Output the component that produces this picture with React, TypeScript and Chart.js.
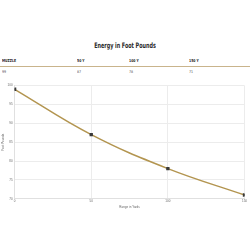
import React, { useEffect, useRef } from "react";
import { Chart, registerables } from "chart.js";

Chart.register(...registerables);

const title = "Energy in Foot Pounds";
const headers = ["MUZZLE", "50 Y", "100 Y", "150 Y"];
const ranges = [0, 50, 100, 150];
const energy = [99, 87, 78, 71];
const yTicks = { min: 70, max: 100, step: 5 };
const xTitle = "Range in Yards";
const yTitle = "Foot Pounds";

export default function App() {
  const ref = useRef<HTMLCanvasElement>(null);
  useEffect(() => {
    if (!ref.current) return;
    const chart = new Chart(ref.current, {
      type: "line",
      data: {
        datasets: [
          {
            data: ranges.map((x, i) => ({ x, y: energy[i] })),
            borderColor: "#b39550",
            borderWidth: 1.5,
            pointStyle: "rect",
            pointRadius: 1.3,
            pointBackgroundColor: "#3a3a3a",
            pointBorderColor: "#3a3a3a",
            tension: 0.4,
          },
        ],
      },
      options: {
        animation: false,
        responsive: false,
        maintainAspectRatio: false,
        plugins: { legend: { display: false }, tooltip: { enabled: false } },
        layout: { padding: { top: 5, right: 4, left: 0, bottom: 0 } },
        scales: {
          x: {
            type: "linear",
            min: 0,
            max: 150,
            ticks: { stepSize: 50, font: { size: 3 }, color: "#666", padding: 1 },
            grid: { color: "#ececec", drawTicks: false },
            border: { color: "#e0e0e0" },
            title: { display: true, text: xTitle, font: { size: 3 }, color: "#666", padding: 1 },
          },
          y: {
            min: yTicks.min,
            max: yTicks.max,
            ticks: { stepSize: yTicks.step, font: { size: 3 }, color: "#666", padding: 2 },
            grid: { color: "#ececec", drawTicks: false },
            border: { color: "#e0e0e0" },
            title: { display: true, text: yTitle, font: { size: 3 }, color: "#666", padding: 1 },
          },
        },
      },
    });
    return () => chart.destroy();
  }, []);

  const colX = [2, 77, 129, 189];
  const fontStack = '"DejaVu Sans Condensed", "Liberation Sans Narrow", "Roboto", sans-serif';
  return (
    <div style={{ position: "fixed", left: 0, top: 0, width: 250, height: 250, background: "#fff", fontFamily: fontStack, WebkitFontSmoothing: "antialiased" }}>
      <div style={{ position: "absolute", top: 41, left: 0, width: 250, textAlign: "center", fontSize: 7.5, lineHeight: "9px", fontWeight: 700, color: "#2a2a2a", transform: "scaleX(0.72)", transformOrigin: "125px 0" }}>{title}</div>
      {headers.map((h, i) => (
        <div key={h} style={{ position: "absolute", top: 59, left: colX[i], fontSize: 4, lineHeight: "4px", fontWeight: 700, color: "#222", transform: "scaleX(0.85)", transformOrigin: "0 0" }}>{h}</div>
      ))}
      <div style={{ position: "absolute", top: 65.5, left: 0, width: 250, height: 1, background: "#c9b48c" }} />
      {energy.map((v, i) => (
        <div key={i} style={{ position: "absolute", top: 69.5, left: colX[i], fontSize: 3.8, lineHeight: "4px", color: "#555", transform: "scaleX(0.95)", transformOrigin: "0 0" }}>{v}</div>
      ))}
      <canvas ref={ref} width={250} height={130} style={{ position: "absolute", left: 0, top: 80, width: 250, height: 130 }} />
    </div>
  );
}
